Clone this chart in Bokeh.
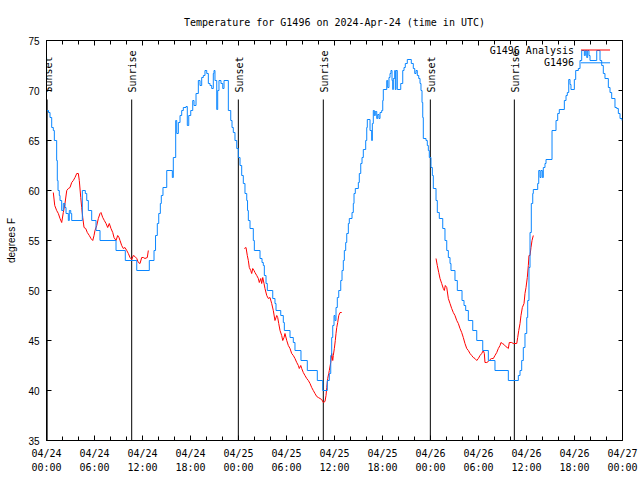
import math
from bokeh.plotting import figure
from bokeh.models import Range1d, FixedTicker, LinearAxis
from bokeh.embed import file_html
from bokeh.resources import INLINE
from bokeh.core.properties import value

# ---- data (hours since 2024-04-24 00:00 UTC, temperature in degrees F) ----
obs_hours = [0.06, 0.25, 0.44, 0.65, 0.85, 0.98, 1.27, 1.35, 1.44, 1.6, 1.69, 1.9, 2.1, 2.31, 2.44,
             2.73, 2.85, 3.03, 3.15, 4.48, 4.85, 5.03, 5.23, 5.65, 6.19, 6.69, 8.69, 9.85, 11.28,
             12.85, 13.44, 13.63, 13.85, 14.03, 14.23, 14.35, 14.56, 15.03, 15.73, 15.85, 16.15,
             16.28, 16.48, 16.69, 16.9, 17.1, 17.44, 17.6, 17.78, 18.03, 18.28, 18.44, 18.69, 18.98,
             19.19, 19.4, 19.6, 19.81, 20.03, 20.23, 20.44, 20.65, 20.85, 20.94, 21.06, 21.28, 21.4,
             21.56, 21.81, 22.03, 22.19, 22.73, 23.03, 23.19, 23.35, 23.56, 23.78, 23.98, 24.19,
             24.4, 24.6, 24.81, 25.03, 25.13, 25.23, 25.44, 25.85, 25.98, 26.69, 26.94, 27.1, 27.23,
             27.44, 27.6, 28.28, 28.56, 28.69, 29.28, 29.6, 29.73, 30.44, 30.85, 31.06, 31.81, 32.6,
             33.85, 34.53, 35.1, 35.35, 35.53, 35.65, 35.78, 35.94, 36.06, 36.19, 36.35, 36.53,
             36.78, 36.94, 37.1, 37.23, 37.4, 37.53, 37.73, 37.85, 38.19, 38.35, 38.44, 38.6, 38.98,
             39.1, 39.28, 39.44, 39.6, 39.9, 40.03, 40.1, 40.44, 40.65, 40.73, 40.85, 40.98, 41.1,
             41.28, 41.4, 41.56, 41.69, 41.9, 42.03, 42.1, 42.53, 42.65, 42.81, 42.94, 43.06, 43.19,
             43.28, 43.35, 43.53, 43.6, 43.69, 43.85, 44.28, 44.53, 44.69, 44.85, 45.1, 45.6, 45.85,
             46.03, 46.19, 46.35, 46.53, 46.69, 46.81, 46.94, 47.03, 47.1, 47.44, 47.6, 47.73, 47.85,
             48.06, 48.23, 48.35, 48.69, 48.85, 49.1, 49.53, 49.81, 50.03, 50.23, 50.44, 50.56,
             51.06, 51.35, 51.94, 52.19, 52.4, 52.73, 53.28, 53.78, 54.53, 55.23, 56.06, 57.73,
             58.98, 59.19, 59.4, 59.6, 59.81, 60.03, 60.15, 60.31, 60.44, 60.6, 60.78, 60.85, 61.4,
             61.53, 61.69, 61.81, 61.98, 62.1, 62.31, 62.44, 63.19, 63.69, 63.9, 64.1, 64.73, 64.94,
             65.1, 65.28, 65.44, 65.56, 65.98, 66.15, 66.48, 66.69, 66.9, 67.23, 67.35, 67.53, 67.65,
             67.81, 67.94, 68.78, 69.19, 69.4, 69.6, 69.81, 70.23, 70.44, 70.65, 71.06, 71.28, 71.48,
             71.69, 71.94]
obs_temp = [68, 67.8, 67.3, 66.3, 66, 65, 63, 61, 60, 59.5, 59, 58, 58.7, 58.3, 57.7,
            57, 58, 57.7, 57, 60, 59.7, 59, 58, 57, 56, 55, 54, 53, 52,
            53, 54, 55.5, 56.7, 57.7, 58.7, 59.5, 60.3, 62, 61.3, 63.3, 67,
            65.7, 66.8, 67.5, 68, 68.3, 68.4, 66.5, 67.5, 68, 69, 68.5, 69.7, 71,
            70.5, 71.3, 71.5, 72, 71.7, 70.7, 70.5, 70.2, 71.7, 72, 71, 68.1, 70,
            71, 70.7, 70.2, 71, 68, 67, 66.3, 65.8, 65, 64.2, 63.3, 62.5,
            61.5, 60.7, 59.7, 59, 58, 57, 56.2, 55, 54, 53.2, 52.8, 52.5, 51.5,
            50.7, 50, 49.2, 48.7, 48, 47.5, 46.8, 46, 45.3, 44.8, 44, 43, 42,
            41, 40, 41, 41.7, 43.5, 45.3, 46.5, 47.5, 47, 48.3, 49.3, 50,
            51, 52, 53, 54, 54.8, 55.7, 56.7, 57.2, 57.8, 58.7, 59.7, 60.2, 60.8,
            61.7, 62.7, 63.3, 64.1, 65, 66.3, 67.1, 66, 65, 66.7, 68, 67.5, 67.9,
            67.2, 67.6, 67.2, 67.8, 68, 69, 70.1, 71, 70.3, 71.3, 71.7, 72, 71,
            70.1, 71.2, 72, 70.1, 72, 70.1, 70.7, 72, 72.3, 72.7, 73.1, 72.7, 72.2,
            71.7, 72, 71.5, 71.2, 70.7, 70, 68.8, 67.3, 65.2, 65, 64.5, 64, 63.3,
            62.3, 61.5, 60.2, 59, 57.8, 57.2, 56.2, 55, 54, 53.3, 52.7, 52,
            51, 50, 49, 48.5, 48, 47, 46, 45, 44, 43, 42, 41,
            41.5, 42, 43, 44.3, 45.7, 47.3, 49, 52.3, 55.8, 58.7, 59.7, 60.1, 60.7,
            62, 61.3, 62, 61.3, 62.3, 62.7, 63.1, 66, 67, 67.7, 68.1, 69, 69.5,
            69.8, 71.1, 70.6, 70.1, 71.1, 72, 72.2, 73, 74, 73.5, 74, 73.3, 74,
            73.5, 73, 74, 73, 72.5, 71.7, 71.2, 70.3, 69.8, 69.2, 68.3, 68.2, 67.7,
            67.2, 67]

ana1_hours = [0.85, 1.03, 1.27, 1.48, 1.69, 1.9, 2.1, 2.31, 2.53, 2.73, 2.94, 3.15, 3.35, 3.56,
              3.78, 3.98, 4.1, 4.28, 4.4, 4.53, 4.69, 4.9, 5.1, 5.35, 5.56, 5.78, 5.94, 6.06,
              6.28, 6.48, 6.69, 6.81, 7.03, 7.23, 7.44, 7.65, 7.85, 8.06, 8.28, 8.44, 8.69,
              8.9, 9.06, 9.19, 9.4, 9.6, 9.81, 10.03, 10.23, 10.44, 10.65, 10.85, 11.06, 11.28,
              11.48, 11.69, 11.9, 12.1, 12.31, 12.6, 12.73]
ana1_temp = [59.8, 58.5, 58, 57.7, 57.2, 56.8, 57.8, 58.7, 60, 60.2, 60.3, 60.8, 61, 61.3,
             61.7, 61.7, 61, 59.3, 58.3, 57.3, 56.3, 56.2, 55.8, 55.5, 55.2, 55, 55.5, 56,
             56.5, 57.2, 57.7, 57.8, 57.3, 57, 56.7, 56.3, 56.7, 56.2, 55.8, 55.3, 55,
             55.5, 55.3, 55, 54.5, 54.2, 54.3, 54, 53.7, 53.3, 53.1, 53.5, 53.4, 53.2,
             52.8, 52.7, 53.3, 53.3, 53.2, 53.3, 54]

ana2_hours = [24.73, 24.94, 25.1, 25.23, 25.35, 25.53, 25.65, 25.78, 25.94, 26.06, 26.28, 26.48,
              26.6, 26.78, 26.9, 27.03, 27.19, 27.31, 27.53, 27.73, 27.94, 28.15, 28.35, 28.56,
              28.78, 28.9, 29.03, 29.19, 29.4, 29.53, 29.69, 29.81, 30.03, 30.23, 30.44, 30.65,
              30.85, 31.06, 31.28, 31.48, 31.6, 31.78, 31.9, 32.1, 32.31, 32.53, 32.73, 32.94,
              33.15, 33.35, 33.56, 33.78, 33.98, 34.19, 34.4, 34.6, 34.81, 34.94, 35.03, 35.15,
              35.28, 35.35, 35.53, 35.65, 35.78, 35.85, 35.98, 36.1, 36.19, 36.28, 36.4, 36.53,
              36.69, 36.9]
ana2_temp = [54.2, 54.3, 53.5, 53, 52.3, 52, 51.7, 52.2, 52, 51.8, 51.5, 51.2,
             50.8, 51.2, 50.7, 51.3, 50.7, 50.2, 49.5, 49.2, 49.3, 48.7, 48, 47,
             47.5, 47.3, 46.7, 46, 45.5, 45, 45.3, 45.7, 45, 44.5, 44.2, 43.7,
             43.5, 43.2, 42.8, 42.5, 42.2, 42.5, 42.2, 41.8, 41.5, 41.2, 41, 40.7,
             40.3, 40, 39.7, 39.4, 39.3, 39.2, 39.1, 38.8, 38.9, 39.5, 40.3, 41.2,
             41.7, 42, 42.8, 43.7, 43, 43.5, 44.2, 45, 45.7, 46.3, 46.8, 47.5,
             47.8, 47.8]

ana3_hours = [48.69, 48.85, 49.03, 49.19, 49.4, 49.6, 49.73, 49.85, 50.03, 50.23, 50.44, 50.65,
              50.85, 51.06, 51.28, 51.48, 51.69, 51.9, 52.1, 52.31, 52.53, 52.73, 52.94, 53.15,
              53.35, 53.56, 53.78, 53.98, 54.19, 54.4, 54.6, 54.73, 54.81, 55.03, 55.23, 55.44,
              55.65, 55.85, 56.06, 56.28, 56.48, 56.69, 56.81, 56.98, 57.19, 57.4, 57.6, 57.73,
              57.85, 58.15, 58.35, 58.78, 58.9, 59.03, 59.19, 59.31, 59.48, 59.69, 59.81, 59.94,
              60.1, 60.23, 60.31, 60.44, 60.56, 60.69, 60.85]
ana3_temp = [53.2, 52.5, 51.8, 51.2, 50.7, 50.2, 50, 50.5, 50.3, 49.2, 48.7, 48.2,
             47.8, 47.5, 47, 46.7, 46.2, 45.8, 45.3, 44.7, 44.2, 44, 43.7, 43.5,
             43.3, 43.2, 43, 43.2, 43.5, 43.7, 44, 43.7, 42.8, 42.8, 42.9, 43.1,
             43.2, 43.2, 43.5, 43.8, 44.2, 44.5, 44.8, 44.7, 44.6, 44.4, 44.3, 44.2,
             44.8, 44.8, 44.7, 44.7, 45.3, 46, 46.7, 47.5, 48.3, 48.7, 49.7, 50.3,
             51.3, 52.5, 53.5, 53.5, 54.3, 55, 55.5]

event_hours = [0.08, 10.65, 23.98, 34.6, 47.98, 58.48]
event_names = ["Sunset", "Sunrise", "Sunset", "Sunrise", "Sunset", "Sunrise"]

tick_hours = [0, 6, 12, 18, 24, 30, 36, 42, 48, 54, 60, 66, 72]
tick_dates = ["04/24", "04/24", "04/24", "04/24", "04/25", "04/25", "04/25", "04/25",
              "04/26", "04/26", "04/26", "04/26", "04/27"]
tick_times = ["00:00", "06:00", "12:00", "18:00", "00:00", "06:00", "12:00", "18:00",
              "00:00", "06:00", "12:00", "18:00", "00:00"]
minor_hours = list(range(0, 73, 2))
y_ticks = [35, 40, 45, 50, 55, 60, 65, 70, 75]

series_names = ["G1496 Analysis", "G1496"]
BLUE = "#0a86ff"
RED = "#ff0000"
MONO = "DejaVu Sans Mono"
SANS = "Liberation Sans"

p = figure(frame_width=576, frame_height=400, output_backend="svg", toolbar_location=None,
           x_range=Range1d(0, 72), y_range=Range1d(35, 75),
           min_border_left=46, min_border_right=18, min_border_top=40, min_border_bottom=40)
p.background_fill_color = "white"
p.border_fill_color = "white"
p.grid.visible = False
p.outline_line_color = "black"
p.outline_line_width = 1
p.outline_line_alpha = 1

p.title.text = "Temperature for G1496 on 2024-Apr-24 (time in UTC)"
p.title.align = "center"
p.title.text_font = MONO
p.title.text_font_size = "10px"
p.title.text_font_style = "normal"
p.title.text_color = "black"
p.title.standoff = 25

xt = FixedTicker(ticks=tick_hours, minor_ticks=minor_hours)
yt = FixedTicker(ticks=y_ticks, minor_ticks=[])

xa = p.xaxis[0]
xa.ticker = xt
xa.major_label_overrides = {h: d for h, d in zip(tick_hours, tick_dates)}
xa.major_label_text_font = MONO
xa.major_label_text_font_size = "10px"
xa.major_label_text_color = "black"
xa.major_label_standoff = 7
xa.major_tick_in = 5
xa.major_tick_out = 0
xa.minor_tick_in = 4
xa.minor_tick_out = 0
xa.major_tick_line_color = "black"
xa.minor_tick_line_color = "black"
xa.axis_line_color = None

xa2 = LinearAxis(ticker=FixedTicker(ticks=tick_hours, minor_ticks=[]),
                 major_label_overrides={h: t for h, t in zip(tick_hours, tick_times)},
                 major_label_text_font=MONO, major_label_text_font_size="10px",
                 major_label_text_color="black", major_label_standoff=0,
                 major_tick_in=0, major_tick_out=0, minor_tick_in=0, minor_tick_out=0,
                 axis_line_color=None, major_tick_line_color=None, minor_tick_line_color=None)
p.add_layout(xa2, "below")

xtop = LinearAxis(ticker=xt, major_label_text_font_size="1px", major_label_text_alpha=0,
                  major_label_standoff=0, major_tick_in=5, major_tick_out=0,
                  minor_tick_in=4, minor_tick_out=0, axis_line_color=None,
                  major_tick_line_color="black", minor_tick_line_color="black")
p.add_layout(xtop, "above")

ya = p.yaxis[0]
ya.ticker = yt
ya.major_label_text_font = SANS
ya.major_label_text_font_size = "10px"
ya.major_label_text_color = "black"
ya.major_label_standoff = 7
ya.major_tick_in = 5
ya.major_tick_out = 0
ya.minor_tick_in = 0
ya.minor_tick_out = 0
ya.major_tick_line_color = "black"
ya.axis_line_color = None
ya.axis_label = "degrees F"
ya.axis_label_text_font = SANS
ya.axis_label_text_font_size = "10px"
ya.axis_label_text_font_style = "normal"
ya.axis_label_text_color = "black"
ya.axis_label_standoff = 8

yright = LinearAxis(ticker=yt, major_label_text_font_size="1px", major_label_text_alpha=0,
                    major_label_standoff=0, major_tick_in=4, major_tick_out=0,
                    minor_tick_in=0, minor_tick_out=0, axis_line_color=None,
                    major_tick_line_color="black")
p.add_layout(yright, "right")

# sunrise / sunset markers
p.segment(x0=event_hours, y0=35, x1=event_hours, y1=69.1, line_color="black", line_width=1)
p.text(x=event_hours, y=[69.8] * len(event_hours), text=event_names, angle=math.pi / 2,
       x_offset=1, text_font=value(MONO), text_font_size="10px", text_color="black",
       text_align="left", text_baseline="middle")

# analysis (red) and observations (blue)
for hh, tt in ((ana1_hours, ana1_temp), (ana2_hours, ana2_temp), (ana3_hours, ana3_temp)):
    p.line(hh, tt, line_color=RED, line_width=1)
p.step(obs_hours, obs_temp, mode="after", line_color=BLUE, line_width=1)

# key, gnuplot style (text left of sample line)
p.text(x=[65.94, 65.94], y=[74.05, 72.77], text=series_names, text_font=value(MONO),
       text_font_size="10px", text_color="black", text_align="right", text_baseline="middle")
p.segment(x0=[66.81, 66.81], y0=[74.05, 72.77], x1=[70.44, 70.44], y1=[74.05, 72.77],
          line_color=[RED, BLUE], line_width=1)

open("out.html", "w").write(file_html(p, INLINE))
